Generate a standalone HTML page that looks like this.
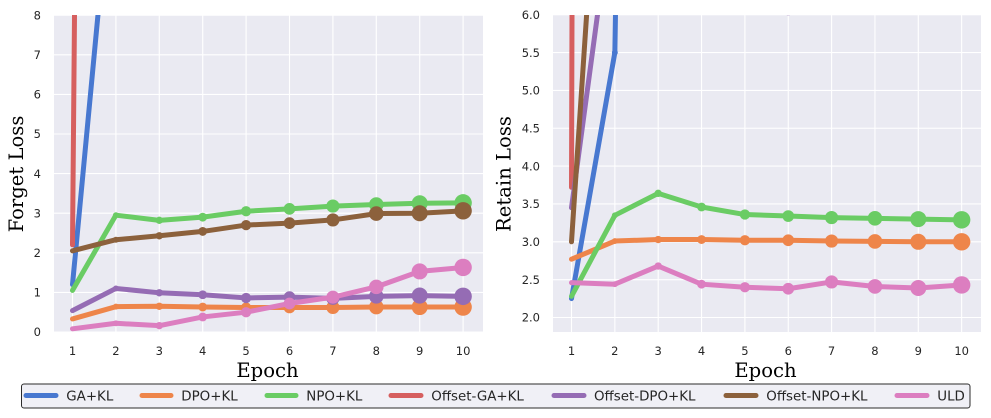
<!DOCTYPE html>
<html>
<head>
<meta charset="utf-8">
<title>Forget and Retain Loss by Epoch</title>
<style>
html,body{margin:0;padding:0;background:#fff;}
svg{display:block;}
.tick{font-family:"DejaVu Sans",sans-serif;font-size:11.5px;fill:#262626;}
.axis-title{font-family:"DejaVu Serif",serif;font-size:19.6px;fill:#000;}
.legend-text{font-family:"DejaVu Sans",sans-serif;font-size:13.4px;fill:#262626;}
</style>
</head>
<body>
<svg id="chart" xmlns="http://www.w3.org/2000/svg" width="991" height="418" viewBox="0 0 991 418">
  <defs>
    <clipPath id="clip-left"><rect x="54" y="15" width="429" height="317"></rect></clipPath>
    <clipPath id="clip-right"><rect x="553" y="15" width="428" height="317"></rect></clipPath>
  </defs>
  <rect x="54" y="15" width="429" height="317" fill="#eaeaf2"></rect>
  <rect x="553" y="15" width="428" height="317" fill="#eaeaf2"></rect>
  <g id="left-grid"></g>
  <g id="right-grid"></g>
  <g id="left-marks" clip-path="url(#clip-left)"></g>
  <g id="right-marks" clip-path="url(#clip-right)"></g>
  <g id="left-ticks"></g>
  <g id="right-ticks"></g>
  <text class="axis-title" x="267.5" y="377" text-anchor="middle">Epoch</text>
  <text class="axis-title" x="765.5" y="377" text-anchor="middle">Epoch</text>
  <text class="axis-title" transform="translate(23 174) rotate(-90)" text-anchor="middle">Forget Loss</text>
  <text class="axis-title" transform="translate(510.5 174) rotate(-90)" text-anchor="middle">Retain Loss</text>

  <g>
    <rect x="21.5" y="384" width="948.5" height="24" rx="2.5" fill="#f0f0f6" stroke="#2b2b2b" stroke-width="1"></rect>
    <line x1="26" x2="56" y1="395.5" y2="395.5" stroke="#4878d0" stroke-width="5" stroke-linecap="round"></line>
    <text class="legend-text" x="66.3" y="400.3">GA+KL</text>
    <line x1="142" x2="171" y1="395.5" y2="395.5" stroke="#ee854a" stroke-width="5" stroke-linecap="round"></line>
    <text class="legend-text" x="181.3" y="400.3">DPO+KL</text>
    <line x1="267" x2="296" y1="395.5" y2="395.5" stroke="#6acc64" stroke-width="5" stroke-linecap="round"></line>
    <text class="legend-text" x="306.3" y="400.3">NPO+KL</text>
    <line x1="391" x2="421" y1="395.5" y2="395.5" stroke="#d65f5f" stroke-width="5" stroke-linecap="round"></line>
    <text class="legend-text" x="431.3" y="400.3">Offset-GA+KL</text>
    <line x1="554" x2="584" y1="395.5" y2="395.5" stroke="#956cb4" stroke-width="5" stroke-linecap="round"></line>
    <text class="legend-text" x="594" y="400.3">Offset-DPO+KL</text>
    <line x1="726" x2="756" y1="395.5" y2="395.5" stroke="#8c613c" stroke-width="5" stroke-linecap="round"></line>
    <text class="legend-text" x="766.3" y="400.3">Offset-NPO+KL</text>
    <line x1="897" x2="927" y1="395.5" y2="395.5" stroke="#dc7ec0" stroke-width="5" stroke-linecap="round"></line>
    <text class="legend-text" x="937.3" y="400.3">ULD</text>
  </g>
</svg>
<script>
const epochs = [1, 2, 3, 4, 5, 6, 7, 8, 9, 10];
const forgetTicks = [0, 1, 2, 3, 4, 5, 6, 7, 8];
const forgetTickLabels = ["0", "1", "2", "3", "4", "5", "6", "7", "8"];
const retainTicks = [2, 2.5, 3, 3.5, 4, 4.5, 5, 5.5, 6];
const retainTickLabels = ["2.0", "2.5", "3.0", "3.5", "4.0", "4.5", "5.0", "5.5", "6.0"];

const seriesNames = ["ga-kl", "dpo-kl", "npo-kl", "offset-ga-kl", "offset-dpo-kl", "offset-npo-kl", "uld"];
const seriesColors = ["#4878d0", "#ee854a", "#6acc64", "#d65f5f", "#956cb4", "#8c613c", "#dc7ec0"];

const forgetGA = [1.2, 12.8, 30, 35, 38, 40, 41, 42, 43, 44];
const forgetDPO = [0.33, 0.64, 0.65, 0.63, 0.62, 0.62, 0.62, 0.63, 0.63, 0.63];
const forgetNPO = [1.05, 2.95, 2.82, 2.9, 3.05, 3.11, 3.18, 3.22, 3.25, 3.26];
const forgetOffsetGA = [2.2, 128, 130, 132, 133, 134, 135, 136, 137, 138];
const forgetOffsetDPO = [0.54, 1.1, 0.99, 0.94, 0.86, 0.88, 0.85, 0.9, 0.92, 0.9];
const forgetOffsetNPO = [2.05, 2.33, 2.43, 2.54, 2.7, 2.75, 2.83, 2.99, 3.0, 3.06];
const forgetULD = [0.08, 0.22, 0.16, 0.38, 0.5, 0.72, 0.88, 1.14, 1.53, 1.63];

const retainGA = [2.25, 5.5, 40, 42, 43, 44, 45, 46, 47, 48];
const retainDPO = [2.77, 3.01, 3.03, 3.03, 3.02, 3.02, 3.01, 3.005, 3.0, 3.0];
const retainNPO = [2.28, 3.35, 3.64, 3.46, 3.36, 3.34, 3.32, 3.31, 3.3, 3.29];
const retainOffsetGA = [3.72, 200, 210, 215, 220, 225, 228, 230, 232, 234];
const retainOffsetDPO = [3.45, 7.7, 7.2, 6.8, 6.4, 6.07, 6.5, 6.9, 7.1, 7.3];
const retainOffsetNPO = [3.0, 11.6, 13, 14, 15, 15.5, 16, 16.5, 17, 17.5];
const retainULD = [2.46, 2.44, 2.68, 2.44, 2.4, 2.38, 2.47, 2.41, 2.39, 2.43];

const forgetSeries = [forgetGA, forgetDPO, forgetNPO, forgetOffsetGA, forgetOffsetDPO, forgetOffsetNPO, forgetULD];
const retainSeries = [retainGA, retainDPO, retainNPO, retainOffsetGA, retainOffsetDPO, retainOffsetNPO, retainULD];

const NS = "http://www.w3.org/2000/svg";

function make(tag, attrs, parent) {
  const el = document.createElementNS(NS, tag);
  for (const k in attrs) el.setAttribute(k, attrs[k]);
  parent.appendChild(el);
  return el;
}

function markerRadius(epoch) {
  return 2.25 + 0.72 * (epoch - 1);
}

function drawPanel(cfg) {
  const grid = document.getElementById(cfg.prefix + "-grid");
  const ticks = document.getElementById(cfg.prefix + "-ticks");
  const marks = document.getElementById(cfg.prefix + "-marks");

  cfg.yTicks.forEach(function (v, i) {
    const y = cfg.yScale(v);
    const gl = make("line", {x1: cfg.left, x2: cfg.right, y1: y, y2: y, stroke: "#fff", "stroke-width": 1.1}, grid);
    
    
    const t = make("text", {x: cfg.left - 13, y: y + 4.2, "text-anchor": "end", "class": "tick"}, ticks);
    
    
    t.textContent = cfg.yLabels[i];
  });

  epochs.forEach(function (e) {
    const x = cfg.xScale(e);
    const gl = make("line", {x1: x, x2: x, y1: 15, y2: 332, stroke: "#fff", "stroke-width": 1.1}, grid);
    
    
    const t = make("text", {x: x, y: 355, "text-anchor": "middle", "class": "tick"}, ticks);
    
    
    t.textContent = String(e);
  });

  cfg.series.forEach(function (values, s) {
    const g = make("g", {}, marks);
    
    
    const pts = values.map(function (v, i) {
      return cfg.xScale(epochs[i]).toFixed(2) + "," + cfg.yScale(v).toFixed(2);
    }).join(" ");
    const line = make("polyline", {points: pts, fill: "none", stroke: seriesColors[s], "stroke-width": 5, "stroke-linecap": "round", "stroke-linejoin": "round"}, g);
    
    
    values.forEach(function (v, i) {
      const c = make("circle", {cx: cfg.xScale(epochs[i]), cy: cfg.yScale(v), r: markerRadius(epochs[i]), fill: seriesColors[s]}, g);
      
      
    });
  });
}

function forgetX(e) { return 72.5 + (e - 1) * 43.4; }
function forgetY(v) { return 332 - v * 39.6; }
function retainX(e) { return 571.5 + (e - 1) * 43.35; }
function retainY(v) { return 317.5 - (v - 2) * 75.7; }

drawPanel({prefix: "left", left: 54, right: 483, xScale: forgetX, yScale: forgetY, yTicks: forgetTicks, yLabels: forgetTickLabels, series: forgetSeries});
drawPanel({prefix: "right", left: 553, right: 981, xScale: retainX, yScale: retainY, yTicks: retainTicks, yLabels: retainTickLabels, series: retainSeries});
</script>
</body>
</html>
